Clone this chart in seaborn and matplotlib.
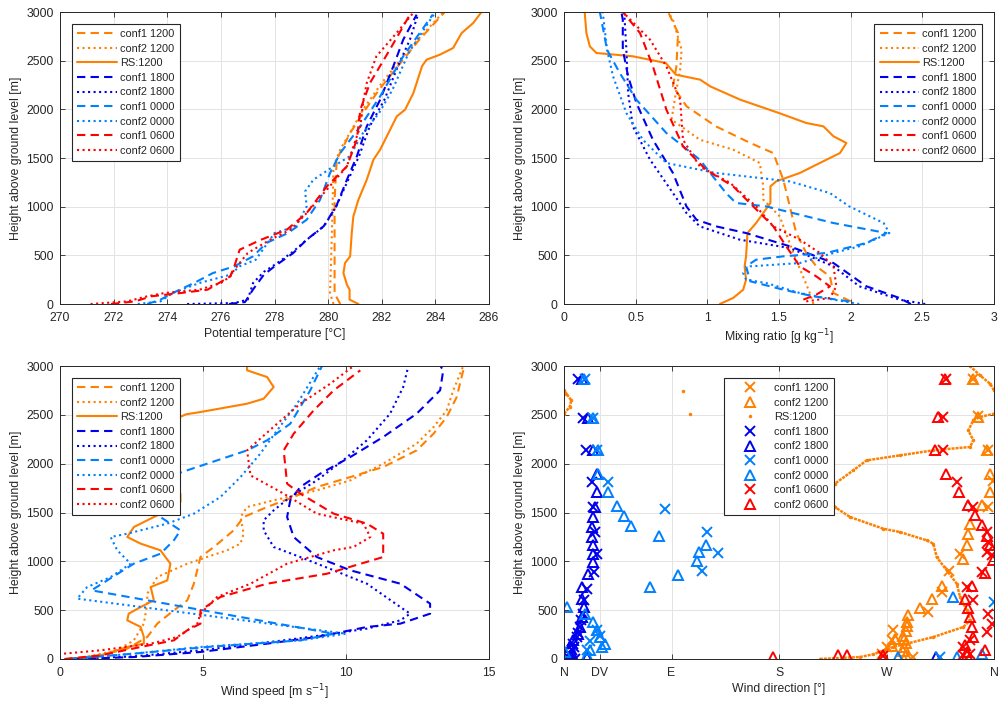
import numpy as np
import matplotlib
matplotlib.use('Agg')
import matplotlib.pyplot as plt
import seaborn as sns

sns.set_style('whitegrid')
plt.rcParams['font.family'] = ['Liberation Sans', 'DejaVu Sans']
plt.rcParams['font.size'] = 8.8

ORANGE = '#FF8000'
BLUE = '#0000EE'
LBLUE = '#0080FF'
RED = '#FF0000'
DASH = (0, (4, 2.5))
DOT = ':'

labels = ['conf1 1200', 'conf2 1200', 'RS:1200', 'conf1 1800', 'conf2 1800',
          'conf1 0000', 'conf2 0000', 'conf1 0600', 'conf2 0600']

# ------------------------------------------------------------
# potential temperature [°C] vs height [m]
# ------------------------------------------------------------
pt_c1_1200 = [280.45, 280.24, 280.24, 280.32, 280.82, 281.3, 281.9, 282.7, 283.4, 284.35]
pt_c1_1200_z = [0, 110, 1072, 1483, 1757, 1962, 2202, 2476, 2716, 3000]
pt_c2_1200 = [280.2, 280.07, 280.14, 280.2, 280.45, 280.95, 281.3, 282.0, 283.0, 284.3]
pt_c2_1200_z = [0, 113, 729, 1414, 1586, 1825, 1997, 2271, 2613, 3000]
pt_rs = [281.13, 280.8, 280.8, 280.7, 280.57, 280.63, 280.82, 280.88, 280.94, 281.13, 281.44, 281.69,
         281.94, 282.25, 282.56, 282.87, 283.18, 283.5, 283.67, 284.17, 284.66, 284.98, 285.41, 285.72]
pt_rs_z = [0, 45, 147, 199, 318, 421, 490, 729, 900, 1072, 1277, 1483,
           1586, 1757, 1928, 1997, 2168, 2442, 2510, 2562, 2630, 2784, 2887, 3000]
pt_c1_1800 = [276.3, 276.9, 277.2, 277.6, 278.0, 278.7, 279.2, 279.83, 280.3, 280.7, 281.07, 281.44,
              281.94, 282.43, 282.8, 283.3]
pt_c1_1800_z = [0, 20, 150, 300, 387, 524, 661, 798, 1003, 1277, 1517, 1825, 2099, 2442, 2716, 2973]
pt_c2_1800 = [274.74, 276.5, 277.0, 277.2, 277.6, 278.1, 278.7, 279.2, 279.85, 280.3, 280.75, 281.15,
              281.55, 282.1, 282.6, 283.05, 283.35]
pt_c2_1800_z = [0, 10, 45, 216, 330, 420, 540, 660, 800, 1003, 1277, 1517, 1825, 2099, 2442, 2716, 2973]
pt_c1_0000 = [273.25, 273.75, 274.2, 275.0, 275.7, 276.5, 277.2, 277.7, 278.5, 279.2, 279.7, 280.07,
              280.45, 281.2, 281.94, 282.8, 283.9]
pt_c1_0000_z = [0, 45, 113, 216, 318, 387, 490, 627, 729, 866, 1072, 1346, 1551, 1825, 2134, 2545, 2973]
pt_c2_0000 = [272.9, 273.75, 274.2, 275.2, 276.35, 276.7, 277.3, 278.0, 278.8, 279.2, 279.14, 279.45,
              280.2, 280.8, 281.3, 281.9, 282.4, 283.0, 284.0]
pt_c2_0000_z = [0, 27, 113, 216, 301, 387, 455, 729, 798, 1003, 1157, 1277, 1414, 1517, 1757, 1962,
                2202, 2579, 3000]
pt_c1_0600 = [271.9, 272.8, 273.4, 274.5, 275.5, 276.35, 276.5, 276.7, 277.5, 278.46, 279.2, 279.95,
              280.7, 281.07, 281.2, 281.56, 282.3, 283.05]
pt_c1_0600_z = [0, 27, 79, 113, 147, 284, 387, 558, 661, 764, 935, 1209, 1414, 1688, 1997, 2271,
                2613, 2973]
pt_c2_0600 = [271.14, 272.5, 273.25, 273.9, 275.2, 276.0, 276.35, 276.5, 277.0, 277.84, 278.6, 279.2,
              279.95, 280.7, 280.94, 281.2, 281.32, 281.44, 281.8, 282.55, 283.2]
pt_c2_0600_z = [0, 27, 79, 113, 147, 216, 284, 353, 524, 661, 764, 935, 1175, 1414, 1620, 1825, 2099,
                2271, 2545, 2784, 3000]

# ------------------------------------------------------------
# mixing ratio [g/kg] vs height
# ------------------------------------------------------------
mr_c1_1200 = [2.0, 1.88, 1.855, 1.76, 1.69, 1.62, 1.575, 1.53, 1.46, 1.3, 1.06, 0.855, 0.76, 0.784,
              0.796, 0.726]
mr_c1_1200_z = [27, 113, 284, 387, 524, 729, 1003, 1277, 1551, 1654, 1825, 2031, 2236, 2442, 2784, 3000]
mr_c2_1200 = [1.74, 1.715, 1.6, 1.505, 1.39, 1.39, 1.366, 1.18, 0.947, 0.784, 0.75, 0.78, 0.81, 0.82,
              0.76, 0.726]
mr_c2_1200_z = [0, 113, 524, 900, 1072, 1209, 1449, 1586, 1688, 1860, 1894, 2168, 2408, 2613, 2921, 3000]
mr_rs = [1.087, 1.18, 1.25, 1.27, 1.26, 1.27, 1.28, 1.34, 1.44, 1.44, 1.48, 1.645, 1.785, 1.925, 1.97,
         1.88, 1.81, 1.69, 1.5, 1.23, 1.02, 0.95, 0.78, 0.71, 0.48, 0.226, 0.18, 0.156, 0.144]
mr_rs_z = [0, 62, 147, 250, 387, 490, 729, 832, 1038, 1209, 1260, 1346, 1449, 1551, 1654, 1723, 1825,
           1860, 1962, 2099, 2236, 2305, 2356, 2476, 2545, 2579, 2647, 2784, 3000]
mr_c1_1800 = [2.42, 2.34, 2.11, 1.88, 1.575, 1.27, 1.06, 0.924, 0.854, 0.76, 0.62, 0.505, 0.447, 0.41,
              0.41, 0.4]
mr_c1_1800_z = [0, 62, 182, 421, 593, 729, 798, 866, 1003, 1346, 1688, 2065, 2339, 2613, 2921, 3000]
mr_c2_1800 = [2.52, 2.34, 2.06, 1.88, 1.575, 1.226, 0.947, 0.854, 0.76, 0.6, 0.48, 0.447, 0.435, 0.42]
mr_c2_1800_z = [0, 45, 182, 387, 575, 661, 798, 935, 1140, 1483, 1825, 2168, 2613, 3000]
mr_c1_0000 = [1.99, 1.74, 1.53, 1.3, 1.27, 1.34, 1.53, 1.83, 2.11, 2.25, 1.88, 1.41, 1.2, 1.13, 0.947,
              0.714, 0.505, 0.389, 0.3, 0.25]
mr_c1_0000_z = [27, 79, 147, 233, 387, 455, 490, 524, 627, 729, 832, 1003, 1038, 1140, 1483, 1757,
                2099, 2373, 2613, 3000]
mr_c2_0000 = [2.06, 1.88, 1.645, 1.41, 1.27, 1.25, 1.3, 1.645, 1.88, 2.06, 2.27, 2.23, 1.99, 1.855,
              1.575, 1.06, 0.714, 0.55, 0.435, 0.342, 0.3, 0.27]
mr_c2_0000_z = [0, 45, 113, 216, 250, 318, 387, 421, 524, 593, 729, 832, 1003, 1140, 1260, 1346, 1449,
                1688, 1962, 2339, 2613, 3000]
mr_c1_0600 = [1.67, 1.76, 1.855, 1.76, 1.645, 1.55, 1.46, 1.32, 1.18, 0.99, 0.83, 0.714, 0.62, 0.53, 0.41]
mr_c1_0600_z = [45, 96, 181, 284, 387, 593, 798, 1003, 1209, 1380, 1620, 1997, 2442, 2784, 3000]
mr_c2_0600 = [1.69, 1.855, 1.9, 1.88, 1.785, 1.645, 1.46, 1.34, 1.16, 0.947, 0.83, 0.81, 0.714, 0.6, 0.41]
mr_c2_0600_z = [27, 62, 182, 387, 524, 661, 798, 1003, 1243, 1414, 1688, 2099, 2442, 2716, 3000]

# ------------------------------------------------------------
# wind speed [m/s] vs height
# ------------------------------------------------------------
ws_c1_1200 = [0.3, 1.4, 2.35, 3.05, 3.4, 3.98, 4.45, 4.68, 4.91, 5.38, 6.07, 6.42, 7.24, 8.17, 8.98,
              10.15, 11.3, 12.47, 13.06, 13.52, 13.87, 14.1, 14.1]
ws_c1_1200_z = [0, 37, 106, 225, 362, 498, 601, 771, 1044, 1147, 1317, 1454, 1556, 1659, 1761, 1863,
                1966, 2136, 2307, 2477, 2682, 2956, 3000]
ws_c2_1200 = [0.6, 2.0, 2.58, 2.93, 3.05, 3.05, 3.4, 4.45, 5.84, 6.31, 6.42, 6.31, 6.54, 7.47, 8.98,
              10.15, 11.3, 12.47, 13.06, 13.52, 13.75, 14.1]
ws_c2_1200_z = [0, 89, 191, 362, 567, 669, 839, 976, 1113, 1181, 1283, 1454, 1556, 1625, 1727, 1829,
                2000, 2205, 2375, 2546, 2751, 3000]
ws_rs = [0.37, 1.42, 2.35, 2.93, 2.93, 2.82, 2.35, 2.4, 2.82, 3.28, 3.17, 3.75, 3.86, 3.51, 2.82, 2.35,
         2.58, 3.05, 3.75, 4.21, 4.21, 3.8, 3.3, 3.6, 4.4, 4.91, 6.54, 7.12, 7.47, 7.24, 6.54, 6.54]
ws_rs_z = [0, 37, 123, 157, 225, 328, 396, 464, 532, 601, 737, 805, 976, 1113, 1181, 1249, 1351, 1420,
           1522, 1607, 1693, 1800, 2100, 2400, 2505, 2529, 2614, 2665, 2785, 2887, 2956, 3000]
ws_c1_1800 = [0.5, 2.58, 4.91, 7.24, 8.98, 10.73, 11.9, 12.94, 12.94, 11.9, 10.15, 8.98, 8.17, 7.94,
              8.05, 8.4, 9.1, 10.15, 11.3, 12.47, 13.29, 13.4, 13.3]
ws_c1_1800_z = [0, 20, 72, 157, 225, 328, 362, 464, 567, 771, 908, 1044, 1249, 1454, 1625, 1761, 1898,
                2068, 2273, 2512, 2751, 2956, 3000]
ws_c2_1800 = [0.5, 2.58, 4.91, 7.82, 9.57, 10.73, 11.9, 12.24, 11.9, 10.73, 9.57, 8.4, 7.47, 7.12, 7.12,
              7.47, 8.05, 8.98, 9.9, 10.73, 11.54, 12.0, 12.18]
ws_c2_1800_z = [0, 27, 89, 191, 259, 311, 396, 464, 532, 771, 908, 1044, 1147, 1317, 1420, 1522, 1659,
                1829, 2034, 2239, 2512, 2785, 3000]
ws_c1_0000 = [0.3, 2.58, 5.14, 8.4, 9.57, 1.1, 1.65, 2.58, 3.51, 3.98, 4.21, 3.51, 3.6, 4.1, 6.54,
              7.24, 8.05, 8.4, 8.75, 9.16]
ws_c1_0000_z = [0, 55, 123, 191, 259, 703, 805, 976, 1078, 1215, 1317, 1454, 1700, 1898, 2136, 2239,
                2409, 2580, 2751, 3000]
ws_c2_0000 = [0.3, 2.58, 4.91, 8.4, 10.0, 0.6, 0.95, 1.77, 2.47, 2.0, 1.77, 2.35, 3.75, 4.68, 5.61,
              6.31, 7.0, 7.59, 8.29, 9.1]
ws_c2_0000_z = [0, 55, 123, 191, 259, 618, 737, 839, 976, 1113, 1249, 1283, 1386, 1488, 1659, 1863,
                2102, 2341, 2614, 3000]
ws_c1_0600 = [0.15, 1.42, 2.82, 3.98, 4.45, 4.91, 4.91, 5.61, 7.24, 9.33, 11.3, 11.3, 10.73, 9.57, 8.4,
              7.94, 7.82, 8.17, 8.87, 9.57, 10.5]
ws_c1_0600_z = [0, 37, 123, 191, 294, 362, 498, 635, 771, 873, 1044, 1283, 1386, 1488, 1693, 1795,
                2136, 2307, 2546, 2751, 2956]
ws_c2_0600 = [0.14, 1.42, 3.17, 4.1, 4.8, 4.91, 5.49, 6.66, 7.94, 9.57, 10.26, 10.85, 10.61, 8.98, 7.82,
              6.66, 6.54, 7.59, 8.4, 9.45, 10.26]
ws_c2_0600_z = [55, 89, 157, 225, 362, 464, 635, 771, 976, 1113, 1147, 1249, 1386, 1488, 1693, 1880,
                2136, 2409, 2614, 2819, 3000]

# ------------------------------------------------------------
# wind direction [deg] vs height (model levels as markers, RS as dots)
# ------------------------------------------------------------
wd_c1_1200 = [266.0, 270.0, 274.3, 275.7, 292.5, 304.9, 316.2, 322.6, 331.5, 355.3, 359.4, 355.3,
              347.0, 342.7]
wd_c1_1200_z = [55, 123, 191, 294, 20, 481, 686, 901, 1079, 1557, 1827, 2137, 2492, 2871]
wd_c2_1200 = [285, 286, 284, 285, 286, 285, 284, 286, 287, 286.8, 288.2, 297.9, 307.8, 316.5, 334.3,
              337.1, 338.5, 340, 349.7, 356.3, 357, 354, 347, 342.7, 277, 275]
wd_c2_1200_z = [5, 40, 80, 120, 160, 200, 240, 290, 340, 379, 455, 522, 618, 745, 1028, 1164, 1284,
                1386, 1574, 1710, 1898, 2137, 2478, 2871, 200, 130]
wd_rs = [214.2, 247.8, 258.9, 275.7, 286.9, 309.2, 334.4, 339.9, 337.2, 331.6, 328.8, 320.4, 312.0,
         309.2, 303.6, 281.3, 267.3, 239.4, 226.8, 222.6, 226.8, 242.2, 253.4, 281.3, 309.2, 339.9,
         342.7, 338.5, 342.7, 348.3, 360.0, 0.0, 4.7, 6.1, 2.0, 0.0, 360.0, 356.7, 348.3, 339.9,
         99.2, 105.3]
wd_rs_z = [0, 20, 48, 123, 157, 225, 328, 396, 498, 635, 771, 908, 1044, 1181, 1215, 1300, 1334, 1454,
           1556, 1693, 1795, 1932, 2034, 2085, 2137, 2171, 2239, 2341, 2444, 2478, 2512, 2512, 2580,
           2648, 2717, 2751, 2751, 2819, 2904, 3000, 2744, 2509]
wd_c1_1800 = [9.2, 5.0, 6.4, 7.8, 10.6, 13.4, 15.6, 16.7, 19.0, 25.4, 27.9, 25.9, 24.5, 23.2, 18.4,
              15.6, 12.0, 3.0, 8.0, 12.0, 14.0]
wd_c1_1800_z = [4, 38, 89, 158, 225, 328, 465, 601, 721, 891, 1079, 1301, 1557, 1813, 2137, 2472, 2871,
                20, 120, 270, 400]
wd_c2_1800 = [7.8, 19.0, 6.4, 5.0, 7.8, 12.0, 13.4, 14.8, 16.3, 14.8, 14.8, 20.4, 24.5, 24.5, 24.0,
              23.2, 23.2, 24.5, 25.9, 27.4, 27.4, 24.5, 20.4, 14.8, 311.5]
wd_c2_1800_z = [4, 21, 55, 123, 192, 259, 328, 427, 532, 618, 737, 874, 993, 1079, 1164, 1249, 1352,
                1454, 1557, 1710, 1898, 2137, 2472, 2871, 20]
wd_c1_0000 = [17.6, 24.5, 27.4, 37.1, 84.6, 119.5, 129.2, 115.3, 360.0, 314.8, 19.0, 22.0, 28.0, 30.0]
wd_c1_0000_z = [2871, 2472, 2137, 1813, 1540, 1301, 1086, 898, 584, 20, 89, 180, 300, 240]
wd_c2_0000 = [16.3, 24.5, 28.8, 28.8, 37.1, 44.6, 50.2, 56.1, 79.5, 118.9, 113.3, 111.1, 95.7, 72.0,
              2.2, 24.5, 27.4, 30.2, 34.3, 31.6, 21.8, 19.0, 0.8, 17.6, 279.9, 325.4, 328.8, 349.7]
wd_c2_0000_z = [2871, 2472, 2137, 1898, 1710, 1567, 1461, 1362, 1256, 1164, 1096, 1000, 857, 737,
                532, 379, 296, 225, 158, 123, 89, 38, 72, 465, 20, 635, 20, 55]
wd_c1_0600 = [334.3, 339.9, 334.3, 339.9, 353.9, 358.0, 355.3, 342.7, 337.1, 349.7, 358.0, 353.9,
              355.3, 353.9, 342.7, 328.8, 317.6, 317.6, 320.0, 267.0]
wd_c1_0600_z = [38, 55, 123, 192, 276, 362, 465, 601, 737, 891, 1062, 1096, 1199, 1301, 1557, 1813,
                2137, 2478, 2871, 30]
wd_c2_0600 = [337.1, 337.1, 352.6, 335.7, 342.7, 341.3, 339.9, 338.5, 335.7, 341.3, 352.6, 359.4,
              357.0, 353.9, 349.7, 344.0, 338.5, 331.0, 319.8, 310.6, 313.4, 319.0, 174.6, 229.6,
              236.6, 267.3]
wd_c2_0600_z = [38, 72, 89, 143, 225, 328, 430, 522, 618, 745, 880, 1018, 1164, 1259, 1369, 1471,
                1574, 1710, 1898, 2137, 2478, 2871, 20, 38, 44, 38]

wd_ticks = [0, 30, 90, 180, 270, 360]
wd_ticklabels = ['N', 'DV', 'E', 'S', 'W', 'N']

colors = [ORANGE, ORANGE, ORANGE, BLUE, BLUE, LBLUE, LBLUE, RED, RED]
styles = [DASH, DOT, '-', DASH, DOT, DASH, DOT, DASH, DOT]


def style_axes(ax, xlabel):
    ax.set_ylim(0, 3000)
    ax.set_yticks(range(0, 3001, 500))
    ax.set_xlabel(xlabel, color='#262626', labelpad=3)
    ax.set_ylabel('Height above ground level [m]', color='#262626', labelpad=3)
    ax.grid(True, color='#e3e3e3', lw=0.7)
    ax.tick_params(direction='in', top=True, right=True, bottom=True, left=True,
                   length=3.5, width=0.6, colors='#262626', labelsize=8.8)
    ax.tick_params(axis='x', pad=5.5)
    ax.tick_params(axis='y', pad=4.5)
    for sp in ax.spines.values():
        sp.set_color('#262626')
        sp.set_linewidth(0.7)


def add_legend(ax, loc, handlelength=3.6, textpad=0.3):
    leg = ax.legend(loc=loc, fontsize=7.9, frameon=True, fancybox=False, framealpha=1,
                    edgecolor='#262626', borderaxespad=1.05, handlelength=handlelength,
                    handletextpad=textpad, labelspacing=0.42, borderpad=0.5)
    leg.get_frame().set_linewidth(0.8)
    return leg


def profile_panel(ax, series):
    for (x, z), c, ls, lab in zip(series, colors, styles, labels):
        sns.lineplot(x=x, y=z, sort=False, estimator=None, color=c, linestyle=ls,
                     lw=1.5, label=lab, ax=ax)


fig = plt.figure(figsize=(9.99, 7.07), dpi=100)
ax_pt = fig.add_axes([0.0601, 0.570, 0.4294, 0.413])
ax_mr = fig.add_axes([0.5646, 0.570, 0.4304, 0.413])
ax_ws = fig.add_axes([0.0601, 0.0679, 0.4294, 0.4144])
ax_wd = fig.add_axes([0.5646, 0.0679, 0.4304, 0.4144])

# potential temperature
profile_panel(ax_pt, [(pt_c1_1200, pt_c1_1200_z), (pt_c2_1200, pt_c2_1200_z), (pt_rs, pt_rs_z),
                      (pt_c1_1800, pt_c1_1800_z), (pt_c2_1800, pt_c2_1800_z),
                      (pt_c1_0000, pt_c1_0000_z), (pt_c2_0000, pt_c2_0000_z),
                      (pt_c1_0600, pt_c1_0600_z), (pt_c2_0600, pt_c2_0600_z)])
ax_pt.set_xlim(270, 286)
ax_pt.set_xticks(range(270, 287, 2))
style_axes(ax_pt, 'Potential temperature [°C]')
add_legend(ax_pt, 'upper left')

# mixing ratio
profile_panel(ax_mr, [(mr_c1_1200, mr_c1_1200_z), (mr_c2_1200, mr_c2_1200_z), (mr_rs, mr_rs_z),
                      (mr_c1_1800, mr_c1_1800_z), (mr_c2_1800, mr_c2_1800_z),
                      (mr_c1_0000, mr_c1_0000_z), (mr_c2_0000, mr_c2_0000_z),
                      (mr_c1_0600, mr_c1_0600_z), (mr_c2_0600, mr_c2_0600_z)])
ax_mr.set_xlim(0, 3)
ax_mr.set_xticks(np.arange(0, 3.01, 0.5))
ax_mr.set_xticklabels(['0', '0.5', '1', '1.5', '2', '2.5', '3'])
style_axes(ax_mr, 'Mixing ratio [g kg$^{-1}$]')
add_legend(ax_mr, 'upper right')

# wind speed
profile_panel(ax_ws, [(ws_c1_1200, ws_c1_1200_z), (ws_c2_1200, ws_c2_1200_z), (ws_rs, ws_rs_z),
                      (ws_c1_1800, ws_c1_1800_z), (ws_c2_1800, ws_c2_1800_z),
                      (ws_c1_0000, ws_c1_0000_z), (ws_c2_0000, ws_c2_0000_z),
                      (ws_c1_0600, ws_c1_0600_z), (ws_c2_0600, ws_c2_0600_z)])
ax_ws.set_xlim(0, 15)
ax_ws.set_xticks([0, 5, 10, 15])
style_axes(ax_ws, 'Wind speed [m s$^{-1}$]')
add_legend(ax_ws, 'upper left')

# wind direction: RS drawn as a dense dotted trace, broken where it wraps round N
rs_d = np.array(wd_rs)
rs_z = np.array(wd_rs_z)
jump = (np.abs(np.diff(rs_d)) > 40) | (np.abs(np.diff(rs_z)) > 150)
breaks = np.where(jump)[0] + 1
for seg_d, seg_z in zip(np.split(rs_d, breaks), np.split(rs_z, breaks)):
    if len(seg_d) > 1:
        ax_wd.plot(seg_d, seg_z, color=ORANGE, lw=1.8, ls=(0, (1.2, 0.4)))

markers = ['x', '^', '.', 'x', '^', 'x', '^', 'x', '^']
wd_series = [(wd_c1_1200, wd_c1_1200_z), (wd_c2_1200, wd_c2_1200_z), (wd_rs, wd_rs_z),
             (wd_c1_1800, wd_c1_1800_z), (wd_c2_1800, wd_c2_1800_z),
             (wd_c1_0000, wd_c1_0000_z), (wd_c2_0000, wd_c2_0000_z),
             (wd_c1_0600, wd_c1_0600_z), (wd_c2_0600, wd_c2_0600_z)]
for (x, z), c, m, lab in zip(wd_series, colors, markers, labels):
    if m == '.':
        ax_wd.plot(x, z, ls='none', marker='.', ms=3, color=c, label=lab)
    elif m == '^':
        ax_wd.plot(x, z, ls='none', marker='^', ms=6.5, mfc='none', mec=c, mew=1.4, label=lab)
    else:
        ax_wd.plot(x, z, ls='none', marker='x', ms=6.5, color=c, mew=1.4, label=lab)
ax_wd.set_xlim(0, 360)
ax_wd.set_xticks(wd_ticks)
ax_wd.set_xticklabels(wd_ticklabels)
style_axes(ax_wd, 'Wind direction [°]')
leg = add_legend(ax_wd, 'upper center', handlelength=3.8, textpad=0.25)
leg.set_bbox_to_anchor((0.5, 1.0))

fig.savefig('out.png', dpi=100)
